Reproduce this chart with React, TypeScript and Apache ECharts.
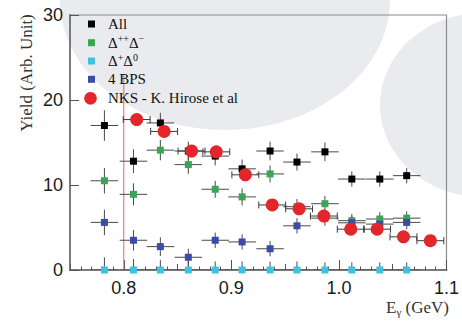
import React, { useEffect, useRef } from "react";
import * as echarts from "echarts";

// Photon-energy bin centres (GeV) shared by the decomposed yields
const binCenters = [0.782, 0.809, 0.834, 0.86, 0.885, 0.91, 0.936, 0.961, 0.987, 1.012, 1.038, 1.063];
const binHalfWidth = 0.0128;

// Yields per component
const allYield = [17.0, 12.8, 17.3, 14.0, 13.4, 11.9, 14.0, 12.7, 13.9, 10.7, 10.7, 11.1];
const allErr = [1.8, 1.4, 1.2, 1.1, 1.1, 1.1, 1.1, 1.0, 1.1, 0.9, 0.9, 0.9];

const ddYield = [10.5, 8.9, 14.1, 12.4, 9.5, 8.6, 11.3, 7.45, 7.8, 5.8, 6.0, 6.1];
const ddErr = [1.5, 1.3, 1.2, 1.1, 1.0, 1.0, 1.0, 0.9, 0.9, 0.8, 0.8, 0.8];

const dpYield = [0, 0, 0, 0, 0, 0, 0, 0, 0, 0, 0, 0];
const dpErr = [1.5, 1.3, 1.2, 1.3, 1.0, 1.0, 1.0, 1.0, 0.9, 0.9, 0.9, 0.9];

const bpsYield = [5.6, 3.5, 2.75, 1.5, 3.5, 3.3, 2.5, 5.2, 6.1, 5.55, 5.4, 5.6];
const bpsErr = [1.5, 1.2, 1.1, 1.0, 0.9, 0.9, 0.9, 0.9, 0.9, 0.8, 0.8, 0.8];

// NKS reference measurement
const nksEnergy = [0.812, 0.8375, 0.863, 0.886, 0.913, 0.938, 0.963, 0.986, 1.011, 1.0355, 1.06, 1.085];
const nksYield = [17.7, 16.3, 14.0, 13.9, 11.2, 7.65, 7.2, 6.35, 4.8, 4.8, 3.9, 3.45];
const nksErr = [0.5, 0.5, 0.5, 0.5, 0.45, 0.4, 0.4, 0.4, 0.35, 0.35, 0.3, 0.3];
const nksHalfWidth = 0.0125;

// Threshold marker
const thresholdLine = [
  [0.8, 0],
  [0.8, 23],
];

const xLabelValues = [0.8, 0.9, 1.0, 1.1];

const legendRows = [
  { text: "All", color: "#000000", shape: "square" },
  { text: "{t|Δ}{sup|++}{t|Δ}{sup|−}", color: "#3aa655", shape: "square" },
  { text: "{t|Δ}{sup|+}{t|Δ}{sup|0}", color: "#3fc1e3", shape: "square" },
  { text: "4 BPS", color: "#3a4ba8", shape: "square" },
  { text: "NKS - K. Hirose et al", color: "#e3262b", shape: "circle" },
];

const SERIF = "'Liberation Serif', 'DejaVu Serif', serif";
const SANS = "'Liberation Sans', Arial, sans-serif";

function errorBars(
  name: string,
  xs: number[],
  ys: number[],
  yErr: number[],
  xHalf: number,
  color: string,
  caps: boolean,
  z: number
) {
  return {
    type: "custom",
    name,
    clip: true,
    z,
    silent: true,
    data: xs.map((x, i) => [x, ys[i], xHalf, yErr[i]]),
    encode: { x: 0, y: 1 },
    renderItem: (_params: any, api: any) => {
      const x = api.value(0);
      const y = api.value(1);
      const dx = api.value(2);
      const dy = api.value(3);
      const c = api.coord([x, y]);
      const l = api.coord([x - dx, y]);
      const r = api.coord([x + dx, y]);
      const t = api.coord([x, y + dy]);
      const b = api.coord([x, y - dy]);
      const style = { stroke: color, lineWidth: 1, fill: "none" };
      const children: any[] = [
        { type: "line", shape: { x1: l[0], y1: c[1], x2: r[0], y2: c[1] }, style },
        { type: "line", shape: { x1: c[0], y1: t[1], x2: c[0], y2: b[1] }, style },
      ];
      if (caps) {
        children.push(
          { type: "line", shape: { x1: l[0], y1: c[1] - 3.5, x2: l[0], y2: c[1] + 3.5 }, style },
          { type: "line", shape: { x1: r[0], y1: c[1] - 3.5, x2: r[0], y2: c[1] + 3.5 }, style }
        );
      }
      return { type: "group", children };
    },
  };
}

function markers(name: string, xs: number[], ys: number[], color: string, symbol: string, size: number, z: number) {
  return {
    type: "scatter",
    name,
    symbol,
    symbolSize: size,
    z,
    itemStyle: { color, opacity: 1 },
    data: xs.map((x, i) => [x, ys[i]]),
  };
}

export default function App() {
  const ref = useRef<HTMLDivElement>(null);

  useEffect(() => {
    if (!ref.current) return;
    const chart = echarts.init(ref.current, undefined, { renderer: "svg" });

    const legendX = 91.5;
    const legendTextX = 108;
    const legendY = [24, 42.7, 61, 79.3, 98.3];
    const legendGraphics: any[] = [];
    legendRows.forEach((row, i) => {
      const y = legendY[i];
      if (row.shape === "circle") {
        legendGraphics.push({
          type: "circle",
          shape: { cx: legendX - 1, cy: y, r: 6.3 },
          style: { fill: row.color },
          z: 20,
        });
      } else {
        legendGraphics.push({
          type: "rect",
          shape: { x: legendX - 3.5, y: y - 3.5, width: 7, height: 7 },
          style: { fill: row.color },
          z: 20,
        });
      }
      legendGraphics.push({
        type: "text",
        x: legendTextX,
        y,
        z: 20,
        style: {
          text: row.text,
          fill: "#111",
          font: `15px ${SERIF}`,
          verticalAlign: "middle",
          align: "left",
          rich: {
            t: { fontSize: 15, fontFamily: SERIF, fill: "#111", lineHeight: 18 },
            sup: { fontSize: 10, fontFamily: SERIF, fill: "#111", verticalAlign: "top", lineHeight: 10 },
          },
        },
      });
    });

    chart.setOption({
      animation: false,
      backgroundColor: "#ffffff",
      grid: {
        left: 70,
        right: 11,
        top: 15,
        bottom: 51,
        show: true,
        borderColor: "#8c8c8c",
        borderWidth: 1.2,
        backgroundColor: "transparent",
      },
      xAxis: [
        {
          type: "value",
          min: 0.75,
          max: 1.1,
          interval: 0.05,
          axisLine: { show: true, onZero: false, lineStyle: { color: "#7a7a7a", width: 2 } },
          axisTick: { show: true, inside: true, length: 6, lineStyle: { color: "#555" } },
          minorTick: { show: true, splitNumber: 5, length: 3.5, lineStyle: { color: "#555" } },
          splitLine: { show: false },
          axisLabel: {
            customValues: xLabelValues,
            formatter: (v: number) => v.toFixed(1),
            color: "#1a1a1a",
            fontFamily: SANS,
            fontSize: 18,
            margin: 9,
          },
        },
        {
          type: "value",
          min: 0.75,
          max: 1.1,
          position: "bottom",
          axisLine: { show: false },
          axisTick: { show: true, inside: true, length: 10, customValues: xLabelValues, lineStyle: { color: "#555" } },
          axisLabel: { show: false },
          splitLine: { show: false },
        },
      ],
      yAxis: {
        type: "value",
        min: 0,
        max: 30,
        interval: 10,
        axisLine: { show: true, onZero: false, lineStyle: { color: "#7a7a7a", width: 2 } },
        axisTick: { show: true, inside: true, length: 9, lineStyle: { color: "#555" } },
        splitLine: { show: false },
        axisLabel: { color: "#1a1a1a", fontFamily: SANS, fontSize: 18, margin: 7 },
      },
      graphic: [
        // faint background watermark
        {
          type: "ellipse",
          shape: { cx: 225, cy: 0, rx: 165, ry: 130 },
          style: { fill: "#e9ebee" },
          z: -10,
          silent: true,
        },
        {
          type: "ellipse",
          shape: { cx: 482, cy: 105, rx: 102, ry: 92 },
          style: { fill: "#e9ebee" },
          z: -10,
          silent: true,
        },
        ...legendGraphics,
        {
          type: "text",
          x: 26,
          y: 73,
          rotation: Math.PI / 2,
          style: {
            text: "Yield (Arb. Unit)",
            fill: "#333",
            font: `17px ${SERIF}`,
            align: "center",
            verticalAlign: "middle",
          },
        },
        {
          type: "text",
          x: 449,
          y: 307,
          style: {
            text: "{t|E}{s|γ}{t| (GeV)}",
            align: "right",
            verticalAlign: "middle",
            rich: {
              t: { fontSize: 17, fontFamily: SERIF, fill: "#333", lineHeight: 20 },
              s: { fontSize: 11, fontFamily: SERIF, fill: "#333", verticalAlign: "bottom", lineHeight: 12 },
            },
          },
        },
      ],
      series: [
        {
          type: "line",
          name: "threshold",
          data: thresholdLine,
          symbol: "none",
          z: 1,
          silent: true,
          lineStyle: { color: "#e8675f", width: 1 },
        },
        errorBars("All", binCenters, allYield, allErr, binHalfWidth, "#4a4a4a", false, 2),
        errorBars("Δ++Δ−", binCenters, ddYield, ddErr, binHalfWidth, "#4a4a4a", false, 2),
        errorBars("Δ+Δ0", binCenters, dpYield, dpErr, binHalfWidth, "#4a4a4a", false, 2),
        errorBars("4 BPS", binCenters, bpsYield, bpsErr, binHalfWidth, "#4a4a4a", false, 2),
        errorBars("NKS", nksEnergy, nksYield, nksErr, nksHalfWidth, "#3a3a3a", true, 3),
        markers("All", binCenters, allYield, "#000000", "rect", 7, 4),
        markers("Δ++Δ−", binCenters, ddYield, "#3aa655", "rect", 7, 4),
        markers("Δ+Δ0", binCenters, dpYield, "#3fc1e3", "rect", 7, 4),
        markers("4 BPS", binCenters, bpsYield, "#3a4ba8", "rect", 7, 4),
        markers("NKS - K. Hirose et al", nksEnergy, nksYield, "#e3262b", "circle", 13, 5),
      ],
    });

    return () => chart.dispose();
  }, []);

  return (
    <div
      ref={ref}
      style={{ position: "absolute", left: 0, top: 0, width: 462, height: 321 }}
    />
  );
}
